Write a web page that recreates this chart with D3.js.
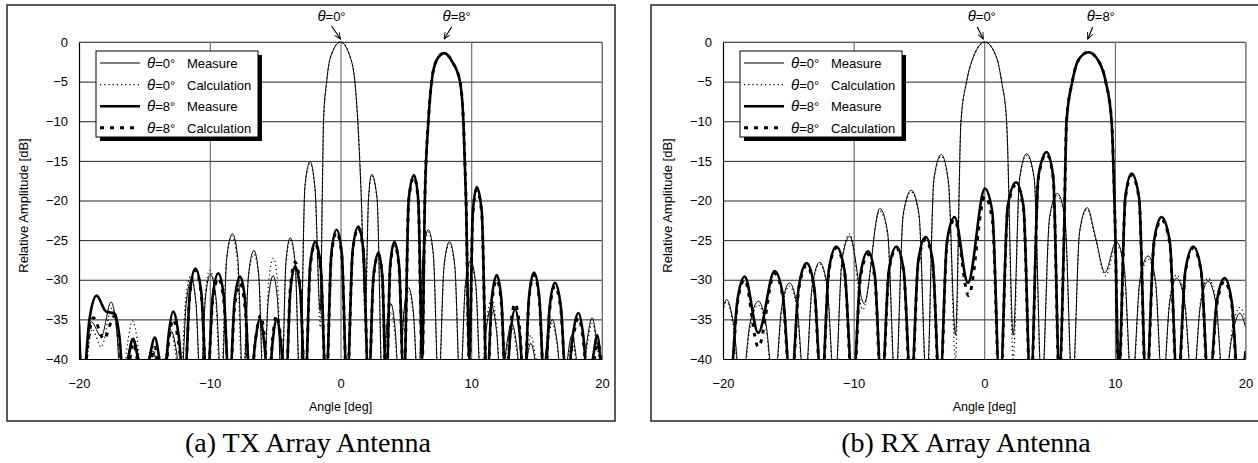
<!DOCTYPE html>
<html>
<head>
<meta charset="utf-8">
<script src="https://cdn.jsdelivr.net/npm/d3@7"></script>
<style>
  body { margin: 0; background: #fff; }
  svg text { font-family: "Liberation Sans", Arial, sans-serif; fill: #000; }
  svg text.caption { font-family: "Liberation Serif", "Times New Roman", serif; }
</style>
</head>
<body>
<svg id="chart" width="1258" height="463"></svg>
<script>
// ==============================
// Data: [angle deg, relative amplitude dB]
// (values under -40 are nulls that fall below the axis)
// ==============================
var xTicks = [-20, -10, 0, 10, 20];
var yTicks = [0, -5, -10, -15, -20, -25, -30, -35, -40];
var beamAngles = [0, 8];
var legendBeams = [0, 0, 8, 8];
var legendKinds = ["Measure", "Calculation", "Measure", "Calculation"];
var captions = ["(a) TX Array Antenna", "(b) RX Array Antenna"];

// TX, theta = 0 deg, measured
var txMeas0 = [[-20,-38.5],[-19.6,-44],[-19.33,-38.2],[-19.05,-35.3],[-18.3,-37.2],[-17.55,-32.8],[-17.15,-35.8],[-16.75,-44],
  [-16.3,-39.8],[-15.85,-37.3],[-15.45,-39.8],[-15.1,-44],[-14.35,-39.0],[-13.65,-44],
  [-13.3,-39],[-12.95,-36.5],[-12.55,-39],[-12.2,-44],[-11.8,-33],[-11.4,-30.0],[-11.05,-33],[-10.7,-44],
  [-10.33,-32.3],[-9.95,-29.3],[-9.52,-32.3],[-9.1,-44],[-8.7,-27.3],[-8.27,-24.2],[-7.86,-27.2],[-7.45,-44],
  [-7.03,-29.3],[-6.62,-26.3],[-6.26,-29.3],[-5.9,-44],[-5.52,-32.5],[-5.15,-29.5],[-4.82,-32.5],[-4.5,-44],
  [-4.17,-27.7],[-3.85,-24.7],[-3.47,-27.8],[-3.1,-44],[-2.72,-18.2],[-2.33,-15.1],[-1.95,-18.5],[-1.55,-34],
  [-1.38,-18],[-1.3,-10],[-1.06,-5],[-0.78,-2],[0,0],[0.8,-2.2],[1.1,-5],[1.32,-10],[1.55,-18],[1.9,-33],
  [2.15,-19.5],[2.39,-16.7],[2.8,-19.8],[3.2,-44],[3.52,-36],[3.85,-33.0],[4.17,-36],[4.5,-44],
  [4.85,-34],[5.2,-31.0],[5.57,-34],[5.95,-44],[6.33,-26.7],[6.72,-23.7],[7.1,-26.8],[7.5,-44],
  [7.92,-28.2],[8.33,-25.2],[8.74,-28.2],[9.15,-44],[9.55,-30.6],[9.95,-27.6],[10.35,-30.6],[10.75,-44],
  [11.15,-36.3],[11.55,-33.3],[11.92,-36.3],[12.3,-44],[12.7,-38.3],[13.1,-35.5],[13.48,-38.3],[13.85,-44],
  [14.55,-38.0],[15.35,-44],[15.78,-38],[16.2,-35.0],[16.58,-38],[16.95,-44],[17.7,-37.0],[18.45,-44],
  [18.85,-37.8],[19.25,-34.8],[19.62,-37.8],[20,-41]];

// TX, theta = 0 deg, calculated
var txCalc0 = [[-20,-40],[-19.6,-44],[-19.3,-39],[-19.0,-36.2],[-18.3,-38.5],[-17.5,-33.6],[-17.1,-36.6],[-16.7,-44],
  [-16.3,-38.2],[-15.9,-35.2],[-15.5,-38.2],[-15.15,-44],[-14.75,-40.5],[-14.4,-38.2],[-14.05,-40.5],[-13.7,-44],
  [-13.35,-39.2],[-13.0,-36.3],[-12.62,-39.2],[-12.25,-44],[-11.85,-32.5],[-11.45,-29.5],[-11.08,-32.5],[-10.7,-44],
  [-10.35,-31.8],[-10.0,-28.8],[-9.58,-31.8],[-9.15,-44],[-8.72,-27.5],[-8.3,-24.5],[-7.9,-27.5],[-7.5,-44],
  [-7.05,-29.8],[-6.62,-26.8],[-6.24,-29.8],[-5.85,-44],[-5.5,-30.3],[-5.13,-27.3],[-4.82,-30.3],[-4.5,-44],
  [-4.17,-28],[-3.85,-25.0],[-3.47,-28],[-3.1,-44],[-2.72,-18.4],[-2.33,-15.3],[-1.95,-18.6],[-1.55,-36],
  [-1.38,-18],[-1.3,-10],[-1.05,-5],[-0.78,-2],[0,0],[0.8,-2.2],[1.1,-5],[1.33,-10],[1.56,-18],[1.9,-35],
  [2.15,-19.7],[2.4,-16.9],[2.8,-20],[3.2,-44],[3.52,-37],[3.85,-34.0],[4.17,-37],[4.5,-44],
  [4.85,-34.5],[5.2,-31.5],[5.57,-34.5],[5.95,-44],[6.33,-27],[6.72,-24.0],[7.1,-27],[7.5,-44],
  [7.92,-28.5],[8.33,-25.5],[8.74,-28.5],[9.15,-44],[9.55,-31],[9.95,-28.0],[10.35,-31],[10.75,-44],
  [11.15,-35.5],[11.55,-32.5],[11.92,-35.5],[12.3,-44],[12.7,-39],[13.1,-36.0],[13.48,-39],[13.85,-44],
  [14.2,-40],[14.55,-37.0],[14.95,-40],[15.35,-44],[15.78,-38.5],[16.2,-35.5],[16.58,-38.5],[16.95,-44],
  [17.7,-38.0],[18.45,-44],[18.85,-38.5],[19.25,-35.5],[19.62,-38.5],[20,-42]];

// TX, theta = 8 deg, measured
var txMeas8 = [[-20,-35.5],[-19.75,-44],[-19.2,-35],[-18.65,-32.0],[-17.95,-34.0],[-17.25,-34.3],[-16.9,-37.3],[-16.55,-44],
  [-16.22,-40],[-15.9,-37.5],[-15.48,-40],[-15.05,-44],[-14.62,-40],[-14.2,-37.3],[-13.85,-40],[-13.5,-44],
  [-13.15,-37],[-12.8,-34.0],[-12.38,-37],[-11.95,-44],[-11.52,-31.6],[-11.1,-28.6],[-10.65,-31.6],[-10.2,-44],
  [-9.78,-32.2],[-9.35,-29.2],[-8.92,-32.2],[-8.5,-44],[-8.1,-32.6],[-7.68,-29.6],[-7.3,-32.6],[-6.9,-44],
  [-6.53,-38],[-6.16,-35.0],[-5.83,-38],[-5.5,-44],[-5.2,-38],[-4.88,-35.0],[-4.55,-38],[-4.2,-44],
  [-3.83,-31.3],[-3.47,-28.3],[-3.08,-31.3],[-2.7,-44],[-2.32,-28.2],[-1.94,-25.2],[-1.52,-28.2],[-1.1,-44],
  [-0.7,-26.7],[-0.3,-23.7],[0.1,-26.7],[0.5,-44],[0.93,-26.3],[1.36,-23.3],[1.75,-26.3],[2.15,-44],
  [2.52,-29.6],[2.9,-26.6],[3.2,-29.6],[3.5,-44],[3.8,-28.2],[4.12,-25.2],[4.48,-28.2],[4.85,-44],
  [5.22,-19.8],[5.62,-16.8],[5.95,-20],[6.25,-40],
  [6.45,-20],[6.72,-10],[6.97,-5],[7.35,-2.3],[7.93,-1.4],[8.55,-2.5],[9.14,-5],[9.4,-10],[9.6,-20],[9.85,-40],
  [10.12,-21.5],[10.42,-18.3],[10.8,-21.3],[11.2,-44],[11.57,-32.4],[11.95,-29.4],[12.3,-32.4],[12.65,-44],
  [13.0,-36.7],[13.35,-33.7],[13.7,-36.7],[14.05,-44],[14.42,-32.1],[14.8,-29.1],[15.2,-32.1],[15.6,-44],
  [16.0,-33.4],[16.4,-30.4],[16.85,-33.4],[17.3,-44],[17.75,-37.2],[18.2,-34.2],[18.58,-37.2],[18.95,-44],
  [19.3,-40],[19.65,-37.0],[20,-44]];

// TX, theta = 8 deg, calculated
var txCalc8 = [[-20,-38],[-19.7,-44],[-19.3,-37.8],[-18.9,-34.8],[-18.1,-37.5],[-17.3,-34.6],[-16.92,-37.6],[-16.55,-44],
  [-16.2,-41],[-15.85,-38.0],[-15.45,-41],[-15.05,-44],[-14.62,-41.5],[-14.2,-38.5],[-13.85,-41.5],[-13.5,-44],
  [-13.15,-38],[-12.8,-35.0],[-12.38,-38],[-11.95,-44],[-11.52,-31.8],[-11.1,-28.8],[-10.65,-31.8],[-10.2,-44],
  [-9.78,-32.8],[-9.35,-29.8],[-8.92,-32.8],[-8.5,-44],[-8.1,-33.5],[-7.68,-30.5],[-7.3,-33.5],[-6.9,-44],
  [-6.5,-37.5],[-6.1,-34.5],[-5.8,-37.5],[-5.5,-44],[-5.2,-37.5],[-4.9,-34.5],[-4.55,-37.5],[-4.2,-44],
  [-3.83,-30.8],[-3.47,-27.8],[-3.08,-30.8],[-2.7,-44],[-2.32,-28.5],[-1.94,-25.5],[-1.52,-28.5],[-1.1,-44],
  [-0.7,-27],[-0.3,-24.0],[0.1,-27],[0.5,-44],[0.93,-26.5],[1.36,-23.5],[1.75,-26.5],[2.15,-44],
  [2.52,-29.8],[2.9,-26.8],[3.2,-29.8],[3.5,-44],[3.8,-28.5],[4.12,-25.5],[4.48,-28.5],[4.85,-44],
  [5.22,-20],[5.62,-17.0],[5.95,-20.2],[6.25,-41],
  [6.45,-20],[6.72,-10],[6.97,-5],[7.35,-2.3],[7.93,-1.4],[8.55,-2.5],[9.14,-5],[9.4,-10],[9.6,-20],[9.85,-41],
  [10.12,-21.8],[10.42,-18.6],[10.8,-21.6],[11.2,-44],[11.57,-33],[11.95,-30.0],[12.3,-33],[12.65,-44],
  [13.0,-36],[13.35,-33.0],[13.7,-36],[14.05,-44],[14.42,-32.4],[14.8,-29.4],[15.2,-32.4],[15.6,-44],
  [16.0,-33.8],[16.4,-30.8],[16.85,-33.8],[17.3,-44],[17.75,-37.8],[18.2,-34.8],[18.58,-37.8],[18.95,-44],
  [19.35,-40.5],[19.7,-38.0],[20,-42]];

// RX, theta = 0 deg, measured
var rxMeas0 = [[-20,-33.5],[-19.72,-32.5],[-19.2,-35.5],[-18.6,-44],[-17.95,-35.7],[-17.3,-32.7],[-16.7,-35.7],[-16.1,-44],
  [-15.5,-33.4],[-14.9,-30.4],[-14.33,-33.4],[-13.75,-44],[-13.17,-30.8],[-12.6,-27.8],[-12.03,-30.8],[-11.45,-44],
  [-10.88,-27.5],[-10.3,-24.5],[-9.2,-33.0],[-8.0,-21.0],[-7.4,-24],[-6.8,-44],
  [-6.2,-21.7],[-5.59,-18.7],[-5.0,-21.7],[-4.4,-44],[-3.85,-17.2],[-3.29,-14.2],[-2.75,-17.5],[-2.2,-37],
  [-1.78,-10],[-1.35,-5],[-0.86,-2],[0.05,0],[0.95,-2],[1.33,-5],[1.71,-10],[2.22,-37],
  [2.7,-17.3],[3.24,-14.1],[3.82,-17.1],[4.4,-44],[5.0,-22.1],[5.59,-19.1],[6.17,-22.1],[6.75,-44],
  [7.3,-23.9],[7.88,-20.9],[8.5,-24.5],[9.24,-29.1],[10.1,-25.2],[10.7,-28.2],[11.3,-44],
  [11.92,-30],[12.55,-27.0],[13.1,-30],[13.65,-44],[14.2,-32.8],[14.72,-29.8],[15.33,-32.8],[15.95,-44],
  [16.55,-33.2],[17.14,-30.2],[17.75,-33.2],[18.35,-44],[18.96,-37.2],[19.57,-34.2],[20,-36]];

// RX, theta = 0 deg, calculated
var rxCalc0 = [[-20,-34],[-19.72,-32.8],[-19.2,-36],[-18.6,-45],[-17.95,-36.2],[-17.3,-33.2],[-16.7,-36.2],[-16.1,-45],
  [-15.5,-33.8],[-14.9,-30.8],[-14.33,-33.8],[-13.75,-45],[-13.17,-31],[-12.6,-28.0],[-12.03,-31],[-11.45,-45],
  [-10.88,-27.2],[-10.3,-24.2],[-9.3,-33.8],[-8.0,-21.3],[-7.4,-24.3],[-6.8,-45],
  [-6.2,-21.9],[-5.59,-18.9],[-5.0,-21.9],[-4.4,-45],[-3.85,-17.4],[-3.29,-14.4],[-2.75,-17.8],[-2.2,-40],
  [-1.78,-10],[-1.35,-5],[-0.86,-2],[0.05,0],[0.95,-2],[1.33,-5],[1.71,-10],[2.22,-40],
  [2.7,-17.5],[3.24,-14.3],[3.82,-17.3],[4.4,-45],[5.0,-22.4],[5.59,-19.4],[6.17,-22.4],[6.75,-45],
  [7.3,-24.1],[7.88,-21.1],[8.5,-24.8],[9.3,-29.5],[10.1,-25.6],[10.7,-28.6],[11.3,-45],
  [11.92,-30.4],[12.55,-27.4],[13.1,-30.4],[13.65,-45],[14.2,-32.4],[14.72,-29.4],[15.33,-32.4],[15.95,-45],
  [16.55,-32.8],[17.14,-29.8],[17.75,-32.8],[18.35,-45],[18.96,-36.5],[19.57,-33.5],[20,-35]];

// RX, theta = 8 deg, measured
var rxMeas8 = [[-20,-41],[-19.5,-44],[-18.9,-32.6],[-18.34,-29.6],[-17.3,-36.7],[-16.05,-28.9],[-15.42,-31.9],[-14.8,-44],
  [-14.2,-30.9],[-13.6,-27.9],[-13.02,-30.9],[-12.45,-44],[-11.9,-28.8],[-11.33,-25.8],[-10.7,-28.8],[-10.05,-44],
  [-9.48,-29.4],[-8.9,-26.4],[-8.38,-29.4],[-7.85,-44],[-7.3,-28.8],[-6.73,-25.8],[-6.17,-28.8],[-5.6,-44],
  [-5.05,-27.6],[-4.49,-24.6],[-3.95,-27.6],[-3.4,-44],[-2.85,-25.1],[-2.27,-22.1],[-1.25,-30.4],
  [0.05,-18.5],[0.62,-21.5],[1.2,-44],[1.8,-20.7],[2.43,-17.7],[3.0,-20.7],[3.55,-44],
  [4.15,-16.9],[4.77,-13.9],[5.28,-17],[5.75,-42],
  [6.1,-25],[6.3,-10],[6.74,-5],[7.2,-2.3],[7.97,-1.3],[8.75,-2.4],[9.3,-5],[9.75,-10],[10.0,-22],[10.3,-42],
  [10.8,-19.6],[11.28,-16.6],[11.85,-19.6],[12.4,-44],[13.0,-25.1],[13.57,-22.1],[14.2,-25.1],[14.8,-44],
  [15.4,-28.8],[16.0,-25.8],[16.6,-28.8],[17.2,-44],[17.8,-32.8],[18.4,-29.8],[18.95,-32.8],[19.5,-44],[20,-39]];

// RX, theta = 8 deg, calculated
var rxCalc8 = [[-20,-42],[-19.5,-45],[-18.9,-33],[-18.34,-30.0],[-17.3,-38.5],[-16.05,-29.2],[-15.42,-32.2],[-14.8,-45],
  [-14.2,-31.2],[-13.6,-28.2],[-13.02,-31.2],[-12.45,-45],[-11.9,-29],[-11.33,-26.0],[-10.7,-29],[-10.05,-45],
  [-9.48,-29.8],[-8.9,-26.8],[-8.38,-29.8],[-7.85,-45],[-7.3,-29],[-6.73,-26.0],[-6.17,-29],[-5.6,-45],
  [-5.05,-27.9],[-4.49,-24.9],[-3.95,-27.9],[-3.4,-45],[-2.85,-25.4],[-2.27,-22.4],[-1.2,-32.0],
  [0.05,-19.5],[0.62,-22.5],[1.2,-45],[1.8,-21],[2.43,-18.0],[3.0,-21],[3.55,-45],
  [4.15,-17.1],[4.77,-14.1],[5.28,-17.2],[5.75,-43],
  [6.1,-25],[6.3,-10],[6.74,-5],[7.2,-2.3],[7.97,-1.3],[8.75,-2.4],[9.3,-5],[9.75,-10],[10.0,-22],[10.3,-43],
  [10.8,-19.8],[11.28,-16.8],[11.85,-19.8],[12.4,-45],[13.0,-25.4],[13.57,-22.4],[14.2,-25.4],[14.8,-45],
  [15.4,-29],[16.0,-26.0],[16.6,-29],[17.2,-45],[17.8,-33.2],[18.4,-30.2],[18.95,-33.2],[19.5,-45],[20,-40]];

// ==============================
// Layout
// ==============================
var panels = [
  {
    frame: {x: 7, y: 5, w: 608, h: 416},
    plot: {left: 79, top: 42, width: 523, height: 317},
    series: [txMeas0, txCalc0, txMeas8, txCalc8],
    caption: captions[0], captionX: 308,
    // text centre offset, arrow start / end offsets (relative to x(beam))
    notes: [{tx: -9, sx: -9, sy: 26, ex: 0, ey: 39}, {tx: 11.5, sx: 6.5, sy: 27, ex: -1, ey: 39}]
  },
  {
    frame: {x: 651, y: 5, w: 620, h: 416},
    plot: {left: 723, top: 42, width: 522.5, height: 317},
    series: [rxMeas0, rxCalc0, rxMeas8, rxCalc8],
    caption: captions[1], captionX: 966,
    notes: [{tx: -2.5, sx: -7, sy: 27, ex: -1, ey: 39}, {tx: 12, sx: 4, sy: 27, ex: -1, ey: 39}]
  }
];

var styles = [
  {width: 1, dash: null},
  {width: 1.2, dash: "1.2,3"},
  {width: 2.6, dash: null},
  {width: 2.9, dash: "4,6"}
];

var svg = d3.select("#chart");

// arrow head
svg.append("defs").append("marker")
  .attr("id", "arrow")
  .attr("viewBox", "0 -5 10 10")
  .attr("refX", 9).attr("refY", 0)
  .attr("markerWidth", 7).attr("markerHeight", 7)
  .attr("markerUnits", "userSpaceOnUse")
  .attr("orient", "auto")
  .append("path")
  .attr("d", "M0,-4L9,0L0,4")
  .attr("fill", "none")
  .attr("stroke", "#000")
  .attr("stroke-width", 1.3);

panels.forEach(function(p, i) {
  var g = svg.append("g");

  // outer chart frame
  g.append("rect")
    .attr("x", p.frame.x).attr("y", p.frame.y)
    .attr("width", p.frame.w).attr("height", p.frame.h)
    .attr("fill", "#fff")
    .attr("stroke", "#333")
    .attr("stroke-width", 1.6);

  var x = d3.scaleLinear().domain([-20, 20]).range([p.plot.left, p.plot.left + p.plot.width]);
  var y = d3.scaleLinear().domain([-40, 0]).range([p.plot.top + p.plot.height, p.plot.top]);

  // clip for the curves
  svg.select("defs").append("clipPath")
    .attr("id", "clip" + i)
    .append("rect")
    .attr("x", p.plot.left).attr("y", p.plot.top - 1)
    .attr("width", p.plot.width).attr("height", p.plot.height + 1);

  // horizontal gridlines
  g.append("g")
    .attr("transform", `translate(${p.plot.left},0)`)
    .call(d3.axisLeft(y).tickValues(yTicks).tickSize(-p.plot.width).tickFormat(""))
    .call(function(s) {
      s.select(".domain").remove();
      s.selectAll("line").attr("stroke", "#222").attr("stroke-width", 1);
    });

  // vertical gridlines
  g.append("g")
    .attr("transform", `translate(0,${p.plot.top + p.plot.height})`)
    .call(d3.axisBottom(x).tickValues(xTicks).tickSize(-p.plot.height).tickFormat(""))
    .call(function(s) {
      s.select(".domain").remove();
      s.selectAll("line").attr("stroke", "#555").attr("stroke-width", 1);
    });

  // plot border: top and right grey
  g.append("path")
    .attr("d", `M${p.plot.left},${p.plot.top}H${p.plot.left + p.plot.width}V${p.plot.top + p.plot.height}`)
    .attr("fill", "none")
    .attr("stroke", "#888");

  // curves
  var line = d3.line()
    .x(function(d) { return x(d[0]); })
    .y(function(d) { return y(d[1]); })
    .curve(d3.curveMonotoneX);

  var curves = g.append("g").attr("clip-path", `url(#clip${i})`);
  p.series.forEach(function(s, k) {
    curves.append("path")
      .datum(s)
      .attr("d", line)
      .attr("fill", "none")
      .attr("stroke", "#000")
      .attr("stroke-width", styles[k].width)
      .attr("stroke-dasharray", styles[k].dash)
      .attr("stroke-linejoin", "round");
  });

  // axes
  g.append("g")
    .attr("transform", `translate(${p.plot.left},0)`)
    .call(d3.axisLeft(y).tickValues(yTicks).tickSize(0).tickPadding(11).tickFormat(d3.format("d")))
    .call(function(s) {
      s.select(".domain").attr("stroke", "#000").attr("stroke-width", 1.2);
      s.selectAll("text").attr("font-size", 13);
    });

  g.append("g")
    .attr("transform", `translate(0,${p.plot.top + p.plot.height})`)
    .call(d3.axisBottom(x).tickValues(xTicks).tickSize(0).tickPadding(20).tickFormat(d3.format("d")))
    .call(function(s) {
      s.select(".domain").attr("stroke", "#000").attr("stroke-width", 1.2);
      s.selectAll("text").attr("font-size", 13);
    });

  // axis titles
  g.append("text")
    .attr("x", x(0))
    .attr("y", 411)
    .attr("text-anchor", "middle")
    .attr("font-size", 12.5)
    .text("Angle [deg]");

  g.append("text")
    .attr("transform", `translate(${p.plot.left - 56},${p.plot.top + p.plot.height / 2 + 5}) rotate(-90)`)
    .attr("text-anchor", "middle")
    .attr("dy", "0.35em")
    .attr("font-size", 13)
    .text("Relative Amplitude [dB]");

  // legend
  var lx = p.plot.left + 17, ly = p.plot.top + 9, lw = 162, lh = 86;
  g.append("rect").attr("x", lx + 4).attr("y", ly + 4).attr("width", lw).attr("height", lh).attr("fill", "#000");
  g.append("rect").attr("x", lx).attr("y", ly).attr("width", lw).attr("height", lh)
    .attr("fill", "#fff").attr("stroke", "#000").attr("stroke-width", 1);

  legendKinds.forEach(function(kind, k) {
    var ry = ly + 12 + k * 21.6;
    g.append("line")
      .attr("x1", lx + 4).attr("x2", lx + 44)
      .attr("y1", ry).attr("y2", ry)
      .attr("stroke", "#000")
      .attr("stroke-width", styles[k].width)
      .attr("stroke-dasharray", styles[k].dash);
    var t = g.append("text")
      .attr("x", lx + 51).attr("y", ry + 5)
      .attr("font-size", 13);
    t.append("tspan").attr("font-style", "italic").attr("font-size", 15).text("\u03b8");
    t.append("tspan").text("=" + legendBeams[k] + "\u00b0");
    g.append("text")
      .attr("x", lx + 91).attr("y", ry + 5)
      .attr("font-size", 13)
      .text(kind);
  });

  // beam annotations
  beamAngles.forEach(function(b, k) {
    var n = p.notes[k], bx = x(b);
    var t = g.append("text")
      .attr("x", bx + n.tx).attr("y", 21)
      .attr("text-anchor", "middle")
      .attr("font-size", 13);
    t.append("tspan").attr("font-style", "italic").attr("font-size", 15).text("\u03b8");
    t.append("tspan").text("=" + b + "\u00b0");
    g.append("line")
      .attr("x1", bx + n.sx).attr("y1", n.sy)
      .attr("x2", bx + n.ex).attr("y2", n.ey)
      .attr("stroke", "#000")
      .attr("stroke-width", 1.2)
      .attr("marker-end", "url(#arrow)");
  });

  // caption
  svg.append("text")
    .attr("class", "caption")
    .attr("x", p.captionX).attr("y", 452)
    .attr("text-anchor", "middle")
    .attr("font-size", 28)
    .text(p.caption);
});
</script>
</body>
</html>
